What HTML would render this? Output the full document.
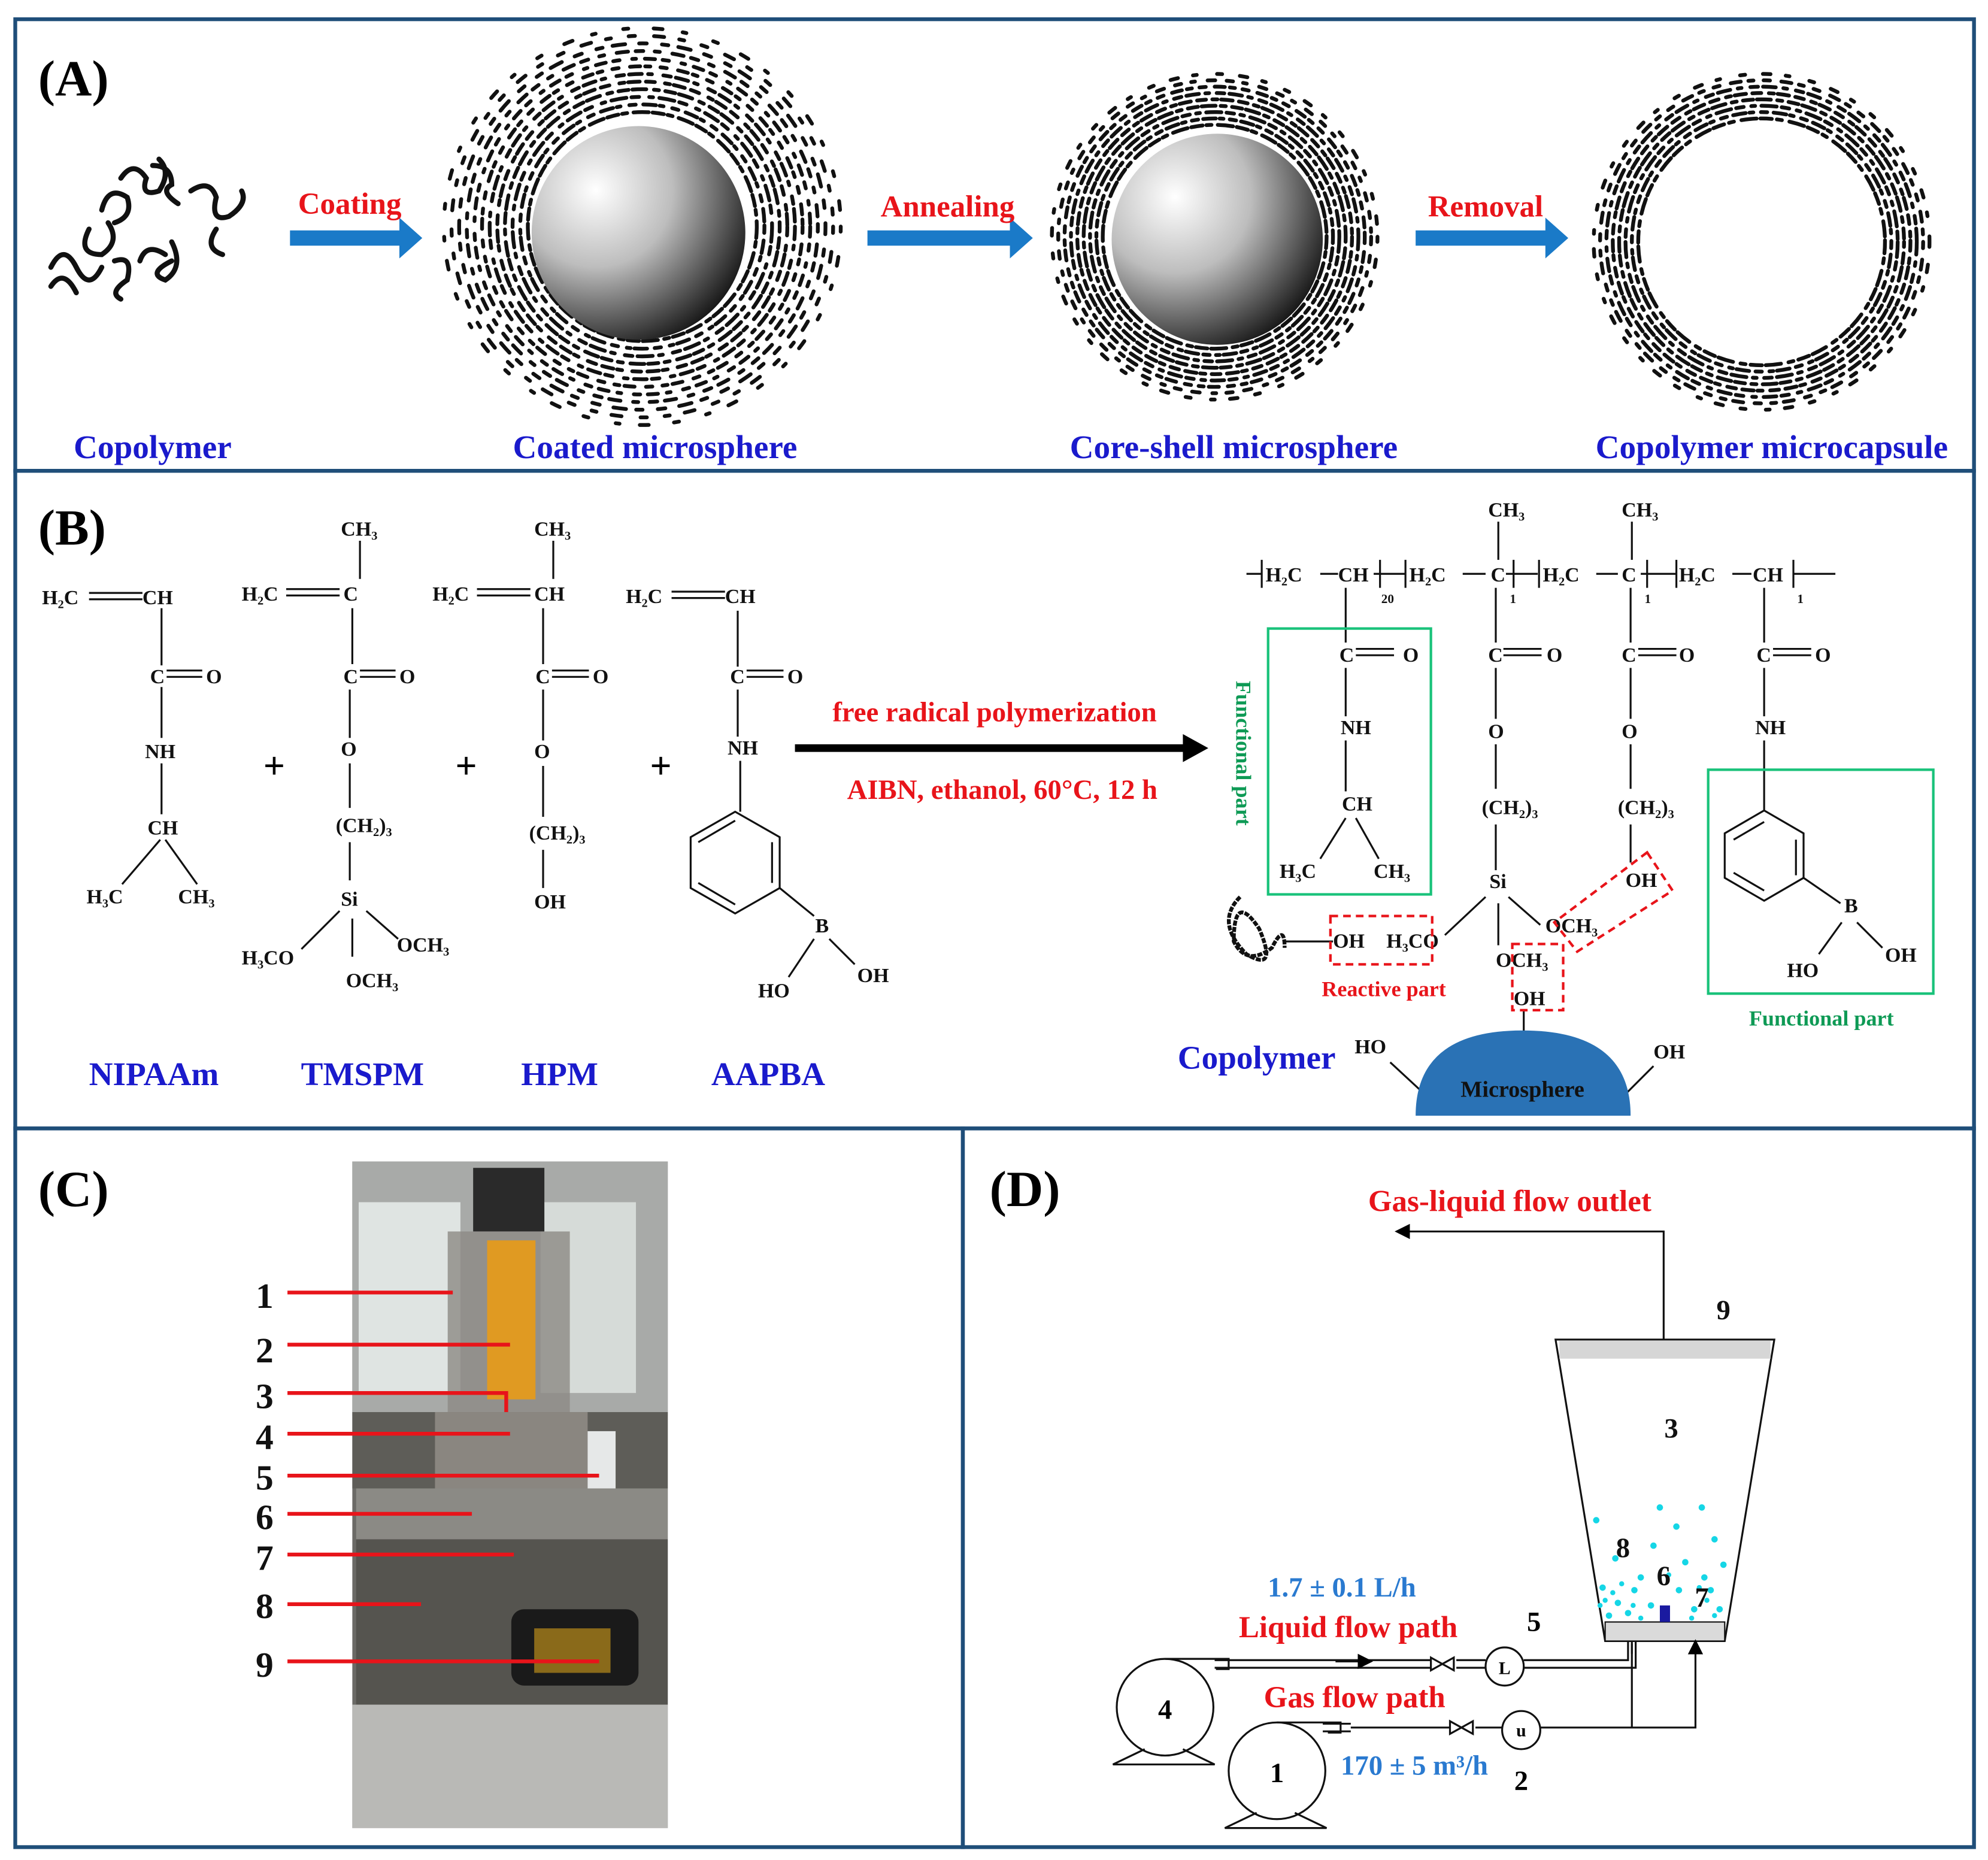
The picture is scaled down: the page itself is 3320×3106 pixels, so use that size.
<!DOCTYPE html>
<html><head><meta charset="utf-8"><style>
html,body{margin:0;padding:0;background:#fff}
svg{display:block}
text{font-family:"Liberation Serif",serif;font-weight:bold}
</style></head><body>
<svg width="3320" height="3106" viewBox="0 0 1563 1462" xmlns="http://www.w3.org/2000/svg">
<defs>
<radialGradient id="sph" cx="0.3" cy="0.3" r="0.8">
<stop offset="0" stop-color="#ffffff"/><stop offset="0.45" stop-color="#bdbdbd"/><stop offset="1" stop-color="#111"/>
</radialGradient>
<marker id="ah" markerWidth="8" markerHeight="8" refX="7" refY="4" orient="auto"><path d="M0,0 L8,4 L0,8 z" fill="#000"/></marker>
</defs>
<rect width="1563" height="1462" fill="#fff"/>
<g fill="none" stroke="#1f4e79" stroke-width="3">
<rect x="12" y="15" width="1540" height="355"/>
<rect x="12" y="370" width="1540" height="517"/>
<rect x="12" y="887" width="745" height="565"/>
<rect x="757" y="887" width="795" height="565"/>
</g>

<!-- Panel A -->
<text x="30" y="75" font-size="40">(A)</text>
<g fill="none" stroke="#111" stroke-width="4" stroke-linecap="round">
<path d="M40,210 q10,-20 20,0 t20,0 M70,180 q-10,20 10,20 q15,-10 5,-25 M95,140 q10,-15 20,0 q-5,15 10,10 q10,-15 0,-25 M120,130 q15,0 15,15 q-10,5 5,15 M80,165 q5,-20 20,-10 q5,15 -10,20 M150,150 q15,-10 20,5 q-5,20 10,15 q15,-10 10,-20 M170,180 q-10,15 5,20 M135,190 q10,20 -5,30 q-15,-5 5,-15 M90,205 q15,-5 10,15 q-15,10 -5,15 M40,225 q10,-15 20,5 M110,205 q5,-15 20,-5"/>
</g>
<path d="M228,181 h86 v-10 l18,16 -18,16 v-10 h-86z" fill="#1a7ac8"/>
<path d="M682,181 h112 v-10 l18,16 -18,16 v-10 h-112z" fill="#1a7ac8"/>
<path d="M1113,181 h102 v-10 l18,16 -18,16 v-10 h-102z" fill="#1a7ac8"/>
<text x="275" y="168" font-size="24" fill="#e8141a" text-anchor="middle">Coating</text>
<text x="745" y="170" font-size="24" fill="#e8141a" text-anchor="middle">Annealing</text>
<text x="1168" y="170" font-size="24" fill="#e8141a" text-anchor="middle">Removal</text>
<g fill="none" stroke="#111" stroke-linecap="round" stroke-width="3">
<g transform="translate(505,178)">
<circle r="90" stroke-dasharray="9 3 4 5 12 3"/>
<circle r="96" stroke-dasharray="5 6 10 3 3 7"/>
<circle r="102" stroke-dasharray="12 4 6 8 3 5"/>
<circle r="108" stroke-dasharray="4 5 8 3 11 6"/>
<circle r="114" stroke-dasharray="7 8 4 3 9 5"/>
<circle r="120" stroke-dasharray="10 5 3 9 6 4"/>
<circle r="126" stroke-dasharray="5 9 8 4 4 8"/>
<circle r="132" stroke-dasharray="8 6 5 10 3 7"/>
<circle r="138" stroke-dasharray="4 10 9 6 6 9"/>
<circle r="144" stroke-dasharray="6 12 5 8 10 11"/>
<circle r="150" stroke-dasharray="5 15 8 12 4 14"/>
<circle r="156" stroke-dasharray="4 20 7 16 3 22"/>
</g>
<g transform="translate(955,186)">
<circle r="88" stroke-dasharray="9 3 4 5 12 3"/>
<circle r="93" stroke-dasharray="5 4 10 3 3 5"/>
<circle r="98" stroke-dasharray="12 4 6 5 3 5"/>
<circle r="103" stroke-dasharray="4 5 8 3 11 4"/>
<circle r="108" stroke-dasharray="7 5 4 3 9 5"/>
<circle r="113" stroke-dasharray="10 5 3 6 6 4"/>
<circle r="118" stroke-dasharray="5 7 8 4 4 6"/>
<circle r="123" stroke-dasharray="6 9 5 8 3 10"/>
<circle r="128" stroke-dasharray="4 14 6 12 3 16"/>
</g>
<g transform="translate(1385,190)">
<circle r="97" stroke-dasharray="9 4 4 6 12 3"/>
<circle r="102" stroke-dasharray="5 5 10 3 3 6"/>
<circle r="107" stroke-dasharray="12 4 6 6 3 5"/>
<circle r="112" stroke-dasharray="4 5 8 3 11 5"/>
<circle r="117" stroke-dasharray="7 6 4 3 9 5"/>
<circle r="122" stroke-dasharray="10 6 3 7 6 4"/>
<circle r="127" stroke-dasharray="5 9 8 6 4 8"/>
<circle r="132" stroke-dasharray="4 14 6 12 3 16"/>
</g>
</g>
<circle cx="502" cy="183" r="84" fill="url(#sph)"/>
<circle cx="957" cy="188" r="83" fill="url(#sph)"/>
<g font-size="26" fill="#1a1acc" text-anchor="middle">
<text x="120" y="360">Copolymer</text>
<text x="515" y="360">Coated microsphere</text>
<text x="970" y="360">Core-shell microsphere</text>
<text x="1393" y="360">Copolymer microcapsule</text>
</g>

<!-- Panel B -->
<text x="30" y="428" font-size="40">(B)</text>
<g font-size="16" fill="#111" font-weight="normal">
<text x="33" y="475">H₂C</text><text x="112" y="475">CH</text>
<text x="118" y="537">C</text><text x="162" y="537">O</text>
<text x="114" y="596">NH</text><text x="116" y="656">CH</text>
<text x="68" y="710">H₃C</text><text x="140" y="710">CH₃</text>
<text x="268" y="421">CH₃</text>
<text x="190" y="472">H₂C</text><text x="270" y="472">C</text>
<text x="270" y="537">C</text><text x="314" y="537">O</text>
<text x="268" y="594">O</text>
<text x="264" y="654">(CH₂)₃</text>
<text x="268" y="712">Si</text>
<text x="190" y="758">H₃CO</text><text x="312" y="748">OCH₃</text><text x="272" y="776">OCH₃</text>
<text x="420" y="421">CH₃</text>
<text x="340" y="472">H₂C</text><text x="420" y="472">CH</text>
<text x="421" y="537">C</text><text x="466" y="537">O</text>
<text x="420" y="596">O</text>
<text x="416" y="660">(CH₂)₃</text>
<text x="420" y="714">OH</text>
<text x="492" y="474">H₂C</text><text x="570" y="474">CH</text>
<text x="574" y="537">C</text><text x="619" y="537">O</text>
<text x="572" y="593">NH</text>
<text x="641" y="733">B</text>
<text x="596" y="784">HO</text><text x="674" y="772">OH</text>
<text x="1170" y="406">CH₃</text><text x="1275" y="406">CH₃</text>
<text x="995" y="457">H₂C</text><text x="1052" y="457">CH</text>
<text x="1108" y="457">H₂C</text><text x="1172" y="457">C</text>
<text x="1213" y="457">H₂C</text><text x="1275" y="457">C</text>
<text x="1320" y="457">H₂C</text><text x="1378" y="457">CH</text>
<text x="1086" y="474" font-size="10">20</text><text x="1187" y="474" font-size="10">1</text><text x="1293" y="474" font-size="10">1</text><text x="1413" y="474" font-size="10">1</text>
<text x="1053" y="520">C</text><text x="1103" y="520">O</text>
<text x="1170" y="520">C</text><text x="1216" y="520">O</text>
<text x="1275" y="520">C</text><text x="1320" y="520">O</text>
<text x="1381" y="520">C</text><text x="1427" y="520">O</text>
<text x="1054" y="577">NH</text><text x="1170" y="580">O</text><text x="1275" y="580">O</text><text x="1380" y="577">NH</text>
<text x="1055" y="637">CH</text><text x="1165" y="640">(CH₂)₃</text><text x="1272" y="640">(CH₂)₃</text>
<text x="1006" y="690">H₃C</text><text x="1080" y="690">CH₃</text>
<text x="1278" y="697">OH</text><text x="1171" y="698">Si</text>
<text x="1048" y="745">OH</text><text x="1090" y="745">H₃CO</text><text x="1215" y="733">OCH₃</text>
<text x="1176" y="760">OCH₃</text><text x="1190" y="790">OH</text>
<text x="1405" y="768">HO</text><text x="1482" y="756">OH</text><text x="1450" y="717">B</text>
<text x="1065" y="828">HO</text><text x="1300" y="832">OH</text>
</g>
<g stroke="#111" stroke-width="1.5" fill="none">
<path d="M70,466 h42 M70,471 h42 M127,478 v45 M131,527 h28 M131,532 h28 M127,540 v40 M127,600 v40 M126,660 l-30,35 M130,660 l25,35"/>
<path d="M283,425 v30 M225,463 h42 M225,468 h42 M277,478 v44 M283,527 h28 M283,532 h28 M275,542 v38 M275,600 v35 M275,662 v30 M267,716 l-30,30 M288,716 l25,22 M277,722 v30"/>
<path d="M435,425 v30 M375,463 h42 M375,468 h42 M427,478 v44 M434,527 h29 M434,532 h29 M427,542 v40 M427,602 v40 M427,668 v30"/>
<path d="M528,465 h42 M528,470 h42 M580,480 v44 M587,527 h29 M587,532 h29 M580,542 v37 M582,598 v40"/>
<polygon points="578,638 613,658 613,698 578,718 543,698 543,658"/>
<path d="M549,662 L578,645 M607,662 v32 M549,694 L578,711 M613,698 L640,720 M640,738 l-20,30 M652,738 l20,20"/>
<path d="M980,451 h12 M1038,451 h14 M1080,451 h25 M1150,451 h18 M1184,451 h25 M1255,451 h17 M1290,451 h28 M1362,451 h15 M1410,451 h33"/>
<path d="M992,440 v22 M1085,440 v22 M1105,440 v22 M1190,440 v22 M1210,440 v22 M1295,440 v22 M1318,440 v22 M1410,440 v22"/>
<path d="M1178,410 v30 M1283,410 v30 M1058,462 v43 M1066,510 h30 M1066,515 h30 M1058,525 v38 M1058,582 v40 M1058,643 l-20,32 M1066,643 l18,32"/>
<path d="M1176,462 v43 M1182,510 h30 M1182,515 h30 M1176,525 v40 M1176,585 v35 M1176,648 v36 M1168,705 l-32,30 M1186,705 l25,22 M1178,710 v33"/>
<path d="M1282,462 v43 M1288,510 h30 M1288,515 h30 M1282,525 v40 M1282,585 v35 M1282,648 v30"/>
<path d="M1387,462 v43 M1394,510 h30 M1394,515 h30 M1387,525 v38 M1387,582 v55"/>
<polygon points="1387,637 1418,655 1418,690 1387,708 1356,690 1356,655"/>
<path d="M1363,660 L1387,646 M1412,660 v28 M1363,686 L1387,700 M1418,690 L1447,710 M1448,725 l-18,25 M1460,725 l20,20"/>
<path d="M1010,740 h38 M1198,795 v30 M1093,835 l27,25 M1300,838 l-22,22"/>
<path d="M975,705 q-20,20 5,45 q25,15 10,-20 q-20,-30 -20,10 q10,20 30,5 q10,-20 10,0" stroke-width="3" stroke-dasharray="4 1"/>
</g>
<text x="207" y="612" font-size="30" font-weight="normal">+</text>
<text x="358" y="612" font-size="30" font-weight="normal">+</text>
<text x="511" y="612" font-size="30" font-weight="normal">+</text>
<path d="M625,585 h305 v-8 l20,11 -20,11 v-8 h-305z" fill="#000"/>
<text x="782" y="567" font-size="22" fill="#e8141a" text-anchor="middle">free radical polymerization</text>
<text x="788" y="628" font-size="22" fill="#e8141a" text-anchor="middle">AIBN, ethanol, 60°C, 12 h</text>
<rect x="997" y="494" width="128" height="209" fill="none" stroke="#19c27a" stroke-width="2"/>
<rect x="1343" y="605" width="177" height="176" fill="none" stroke="#19c27a" stroke-width="2"/>
<g fill="none" stroke="#e8141a" stroke-width="2" stroke-dasharray="6 4">
<rect x="1046" y="720" width="80" height="38"/>
<rect x="1189" y="742" width="40" height="52"/>
<polygon points="1295,670 1315,700 1240,748 1222,725"/>
</g>
<text x="1088" y="783" font-size="17" fill="#e8141a" text-anchor="middle">Reactive part</text>
<text x="1432" y="806" font-size="17" fill="#0e9a55" text-anchor="middle">Functional part</text>
<text x="0" y="0" font-size="17" fill="#0e9a55" text-anchor="middle" transform="translate(972,592) rotate(90)">Functional part</text>
<path d="M1113,877 Q1113,810 1197,810 Q1282,810 1282,877 Z" fill="#2a72b5"/>
<text x="1197" y="862" font-size="18" fill="#111" text-anchor="middle">Microsphere</text>
<text x="988" y="840" font-size="26" fill="#1a1acc" text-anchor="middle">Copolymer</text>
<g font-size="26" fill="#1a1acc" text-anchor="middle">
<text x="121" y="853">NIPAAm</text><text x="285" y="853">TMSPM</text><text x="440" y="853">HPM</text><text x="604" y="853">AAPBA</text>
</g>

<!-- Panel C -->
<text x="30" y="948" font-size="40">(C)</text>
<rect x="277" y="913" width="248" height="524" fill="#6b6a66"/>
<rect x="277" y="913" width="248" height="200" fill="#a8aaa8"/>
<rect x="282" y="945" width="80" height="150" fill="#dfe4e2"/>
<rect x="425" y="945" width="75" height="150" fill="#d6dbd8"/>
<rect x="372" y="918" width="56" height="50" fill="#2a2a2a"/>
<rect x="352" y="968" width="96" height="148" fill="#8c8a84" opacity="0.8"/>
<rect x="383" y="975" width="38" height="125" fill="#e09a22"/>
<rect x="277" y="1110" width="248" height="60" fill="#5e5d58"/>
<rect x="342" y="1110" width="120" height="60" fill="#8a8680"/>
<rect x="462" y="1125" width="22" height="60" fill="#e6e8e8"/>
<rect x="280" y="1170" width="245" height="40" fill="#8b8a85"/>
<rect x="280" y="1210" width="245" height="130" fill="#55544f"/>
<rect x="402" y="1265" width="100" height="60" rx="10" fill="#1a1a1a"/>
<rect x="420" y="1280" width="60" height="35" fill="#8a6a1a"/>
<rect x="277" y="1340" width="248" height="97" fill="#b9b9b6"/>
<g font-size="28" fill="#111" text-anchor="middle">
<text x="208" y="1028">1</text><text x="208" y="1071">2</text><text x="208" y="1107">3</text><text x="208" y="1139">4</text><text x="208" y="1171">5</text><text x="208" y="1202">6</text><text x="208" y="1234">7</text><text x="208" y="1272">8</text><text x="208" y="1318">9</text>
</g>
<g stroke="#e8141a" stroke-width="3" fill="none">
<path d="M226,1016 h130 M226,1057 h175 M226,1095 h172 v15 M226,1127 h175 M226,1160 h245 M226,1190 h145 M226,1222 h178 M226,1261 h105 M226,1306 h245"/>
</g>

<!-- Panel D -->
<text x="778" y="948" font-size="40">(D)</text>
<text x="1187" y="952" font-size="24" fill="#e8141a" text-anchor="middle">Gas-liquid flow outlet</text>
<path d="M1308,1053 V968 H1098" stroke="#111" stroke-width="1.5" fill="none" marker-end="url(#ah)"/>
<text x="1355" y="1037" font-size="22" fill="#111" text-anchor="middle">9</text>
<polygon points="1223,1053 1395,1053 1356,1290 1262,1290" fill="#fff" stroke="#111" stroke-width="1.5"/>
<rect x="1226" y="1054" width="166" height="14" fill="#d6d6d6"/>
<rect x="1262" y="1275" width="94" height="15" fill="#dadada" stroke="#111" stroke-width="1"/>
<text x="1314" y="1130" font-size="22" fill="#111" text-anchor="middle">3</text>
<g fill="#15d6e6">
<circle cx="1260" cy="1248" r="2.5"/><circle cx="1272" cy="1260" r="2.5"/><circle cx="1285" cy="1250" r="2.5"/><circle cx="1298" cy="1262" r="2.5"/><circle cx="1320" cy="1250" r="2.5"/><circle cx="1332" cy="1265" r="2.5"/><circle cx="1345" cy="1250" r="2.5"/><circle cx="1352" cy="1265" r="2.5"/>
<circle cx="1265" cy="1270" r="2.5"/><circle cx="1280" cy="1268" r="2.5"/><circle cx="1290" cy="1240" r="2.5"/><circle cx="1340" cy="1240" r="2.5"/><circle cx="1325" cy="1228" r="2.5"/><circle cx="1300" cy="1215" r="2.5"/><circle cx="1318" cy="1200" r="2.5"/><circle cx="1348" cy="1210" r="2.5"/><circle cx="1255" cy="1195" r="2.5"/><circle cx="1338" cy="1185" r="2.5"/><circle cx="1305" cy="1185" r="2.5"/><circle cx="1270" cy="1225" r="2.5"/><circle cx="1355" cy="1230" r="2.5"/><circle cx="1275" cy="1245" r="2"/><circle cx="1262" cy="1258" r="2"/><circle cx="1342" cy="1258" r="2"/><circle cx="1330" cy="1272" r="2"/><circle cx="1290" cy="1272" r="2"/><circle cx="1312" cy="1238" r="2"/>
<circle cx="1258" cy="1262" r="2"/><circle cx="1268" cy="1252" r="2"/><circle cx="1348" cy="1270" r="2"/><circle cx="1336" cy="1248" r="2"/><circle cx="1284" cy="1262" r="2"/>
</g>
<rect x="1305" y="1262" width="8" height="13" fill="#1a1aa0"/>
<text x="1276" y="1224" font-size="22" fill="#111" text-anchor="middle">8</text>
<text x="1308" y="1246" font-size="22" fill="#111" text-anchor="middle">6</text>
<text x="1338" y="1263" font-size="22" fill="#111" text-anchor="middle">7</text>
<g stroke="#111" stroke-width="1.5" fill="none">
<path d="M955,1305 h50 M955,1311 h50 M1005,1305 h120 M1005,1311 h120 M1145,1305 h23 M1145,1311 h23 M1198,1305 h82 v-15 M1198,1311 h88 v-21"/>
<path d="M1040,1355 h22 M1040,1361 h22"/>
<path d="M1062,1358 H1140 M1160,1358 H1181 M1211,1358 H1333 V1292 M1283,1358 V1292"/>
<path d="M1125,1303 l18,10 v-10 l-18,10z M1140,1353 l18,10 v-10 l-18,10z"/>
<circle cx="1183" cy="1310" r="15"/><circle cx="1196" cy="1360" r="15"/>
<circle cx="916" cy="1342" r="38"/><path d="M900,1375 l-25,12 h80 l-25,-12"/>
<circle cx="1004" cy="1392" r="38"/><path d="M988,1425 l-25,12 h80 l-25,-12"/>
<path d="M916,1304 h50 v8 h-10"/><path d="M1004,1354 h50 v8 h-10"/>
</g>
<path d="M1050,1306 h28" stroke="#111" stroke-width="1.5" marker-end="url(#ah)"/>
<path d="M1283,1300 v-10 M1333,1300 v-10" stroke="#111" stroke-width="1.5" marker-end="url(#ah)"/>
<text x="1183" y="1316" font-size="14" text-anchor="middle" font-weight="normal">L</text>
<text x="1196" y="1365" font-size="14" text-anchor="middle" font-weight="normal">u</text>
<text x="916" y="1351" font-size="22" text-anchor="middle">4</text>
<text x="1004" y="1401" font-size="22" text-anchor="middle">1</text>
<text x="1055" y="1255" font-size="22" fill="#2a7ad0" text-anchor="middle">1.7 ± 0.1 L/h</text>
<text x="1060" y="1287" font-size="24" fill="#e8141a" text-anchor="middle">Liquid  flow path</text>
<text x="1206" y="1282" font-size="22" text-anchor="middle">5</text>
<text x="1065" y="1342" font-size="24" fill="#e8141a" text-anchor="middle">Gas flow path</text>
<text x="1112" y="1395" font-size="22" fill="#2a7ad0" text-anchor="middle">170 ± 5 m³/h</text>
<text x="1196" y="1407" font-size="22" text-anchor="middle">2</text>
</svg>
</body></html>
